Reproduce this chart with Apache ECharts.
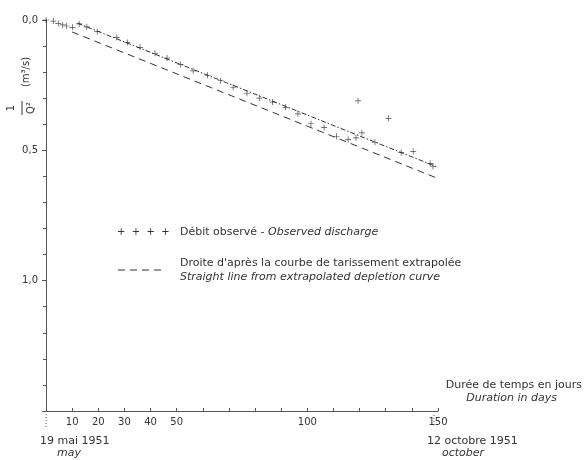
<!DOCTYPE html>
<html>
<head>
<meta charset="utf-8">
<script src="https://cdn.jsdelivr.net/npm/echarts@6/dist/echarts.min.js"></script>
<style>html,body{margin:0;padding:0;background:#fff}#c{width:586px;height:460px}</style>
</head>
<body>
<div id="c"></div>
<script>
// Observed discharge: 1/Q^2 versus duration in days
var obsDays = [0, 2.8, 4.7, 6.4, 7.9, 10.1, 12.7, 15.6, 19.6, 27.1, 31.1, 36.0, 41.7, 46.3, 51.5, 56.3, 61.8, 66.8, 71.6, 76.9, 81.6, 86.7, 91.7, 96.4, 101.4, 106.4, 111.2, 115.6, 118.6, 119.4, 120.9, 125.9, 131.1, 135.9, 140.5, 147.0, 148.1];
var obsVals = [0, 0.004, 0.013, 0.019, 0.023, 0.028, 0.015, 0.026, 0.045, 0.067, 0.086, 0.105, 0.128, 0.146, 0.171, 0.195, 0.212, 0.233, 0.258, 0.281, 0.300, 0.315, 0.335, 0.360, 0.398, 0.412, 0.446, 0.458, 0.452, 0.310, 0.433, 0.469, 0.377, 0.508, 0.504, 0.550, 0.562];
// Line through observed points
var fitDays = [12, 150];
var fitVals = [0.012, 0.565];
// Straight line from extrapolated depletion curve
var depDays = [10, 150];
var depVals = [0.046, 0.608];
// Tick labels
var xLabelValues = [10, 20, 30, 40, 50, 100, 150];
var yLabelValues = [0, 0.5, 1.0];

function pairs(a, b) { return a.map(function (v, i) { return [v, b[i]]; }); }

var FONT = 'DejaVu Sans';
var TXT = '#333';
var AX = '#555';
var chart = echarts.init(document.getElementById('c'));
var plusPath = 'path://M0,4.4h10v1.2h-10z M4.4,0h1.2v10h-1.2z';

chart.setOption({
  backgroundColor: '#fff',
  animation: false,
  grid: { left: 46, right: 148, top: 20, bottom: 49, containLabel: false },
  xAxis: {
    type: 'value', min: 0, max: 150, interval: 10,
    axisLine: { onZero: false, lineStyle: { color: AX, width: 1 } },
    axisTick: { inside: true, length: 3, lineStyle: { color: AX } },
    splitLine: { show: false },
    axisLabel: {
      margin: 6, fontFamily: FONT, fontSize: 10, color: TXT,
      showMaxLabel: true,
      formatter: function (v) { return xLabelValues.indexOf(v) >= 0 ? String(v) : ''; }
    }
  },
  yAxis: {
    type: 'value', inverse: true, min: 0, max: 1.5, interval: 0.5,
    axisLine: { onZero: false, lineStyle: { color: AX, width: 1 } },
    axisTick: { length: 4, lineStyle: { color: AX } },
    minorTick: { show: true, splitNumber: 5, length: 3, lineStyle: { color: AX } },
    splitLine: { show: false },
    axisLabel: {
      margin: 8, fontFamily: FONT, fontSize: 10, color: TXT,
      formatter: function (v) {
        for (var i = 0; i < yLabelValues.length; i++) {
          if (Math.abs(yLabelValues[i] - v) < 1e-9) return v.toFixed(1).replace('.', ',');
        }
        return '';
      }
    }
  },
  series: [
    {
      name: 'fit', type: 'line', data: pairs(fitDays, fitVals), symbol: 'none',
      lineStyle: { color: '#333', width: 1, type: [5, 2, 1.5, 2] }, z: 2
    },
    {
      name: 'depletion', type: 'line', data: pairs(depDays, depVals), symbol: 'none',
      lineStyle: { color: '#333', width: 1, type: [7, 5] }, z: 2
    },
    {
      name: 'observed', type: 'scatter', data: pairs(obsDays, obsVals),
      symbol: plusPath, symbolSize: 6, itemStyle: { color: '#222' }, z: 3
    }
  ]
});

var p0 = chart.convertToPixel({ gridIndex: 0 }, [0, 1.5]);
var p150 = chart.convertToPixel({ gridIndex: 0 }, [150, 1.5]);
var t = { fontFamily: FONT, fontSize: 11, fill: TXT };
function txt(x, y, s, extra) {
  var st = Object.assign({}, t, { text: s, x: x, y: y }, extra || {});
  return { type: 'text', style: st, silent: true };
}
chart.setOption({
  graphic: [
    // dotted date ticks
    { type: 'line', shape: { x1: p0[0], y1: p0[1], x2: p0[0], y2: p0[1] + 17 }, style: { stroke: AX, lineWidth: 1, lineDash: [1, 2] } },
    { type: 'line', shape: { x1: p150[0] - 4, y1: p150[1] + 4, x2: p150[0] - 4, y2: p150[1] + 16 }, style: { stroke: AX, lineWidth: 1, lineDash: [1, 2] } },
    // axis title (rotated)
    {
      type: 'group', x: 22, y: 84, rotation: Math.PI / 2,
      children: [
        { type: 'text', style: { text: '1', x: -24, y: -11, fontFamily: FONT, fontSize: 10, fill: TXT, align: 'center', verticalAlign: 'middle' } },
        { type: 'line', shape: { x1: -31, y1: 0, x2: -17, y2: 0 }, style: { stroke: TXT, lineWidth: 1 } },
        { type: 'text', style: { text: 'Q²', x: -24, y: 9, fontFamily: FONT, fontSize: 10, fill: TXT, align: 'center', verticalAlign: 'middle' } },
        { type: 'text', style: { text: '(m³/s)', x: 12, y: 4, fontFamily: FONT, fontSize: 10, fill: TXT, align: 'center', verticalAlign: 'middle' } }
      ]
    },
    // x axis title
    txt(582, 385, 'Durée de temps en jours', { align: 'right', verticalAlign: 'middle' }),
    txt(557, 398, 'Duration in days', { align: 'right', verticalAlign: 'middle', fontStyle: 'italic' }),
    // dates
    txt(40, 441, '19 mai 1951', { verticalAlign: 'middle' }),
    txt(57, 453, 'may', { verticalAlign: 'middle', fontStyle: 'italic' }),
    txt(427, 441, '12 octobre 1951', { verticalAlign: 'middle' }),
    txt(442, 453, 'october', { verticalAlign: 'middle', fontStyle: 'italic' }),
    // legend
    txt(117, 232, '+  +  +  +', { verticalAlign: 'middle', fontSize: 10 }),
    {
      type: 'text', silent: true,
      style: {
        x: 180, y: 232, verticalAlign: 'middle', fontFamily: FONT, fontSize: 11, fill: TXT,
        text: 'Débit observé - {i|Observed discharge}',
        rich: { i: { fontStyle: 'italic', fontFamily: FONT, fontSize: 11, fill: TXT } }
      }
    },
    { type: 'line', shape: { x1: 118, y1: 270, x2: 166, y2: 270 }, style: { stroke: '#333', lineWidth: 1, lineDash: [7, 5] } },
    txt(180, 263, "Droite d'après la courbe de tarissement extrapolée", { verticalAlign: 'middle' }),
    txt(180, 277, 'Straight line from extrapolated depletion curve', { verticalAlign: 'middle', fontStyle: 'italic' })
  ]
});
</script>
</body>
</html>
